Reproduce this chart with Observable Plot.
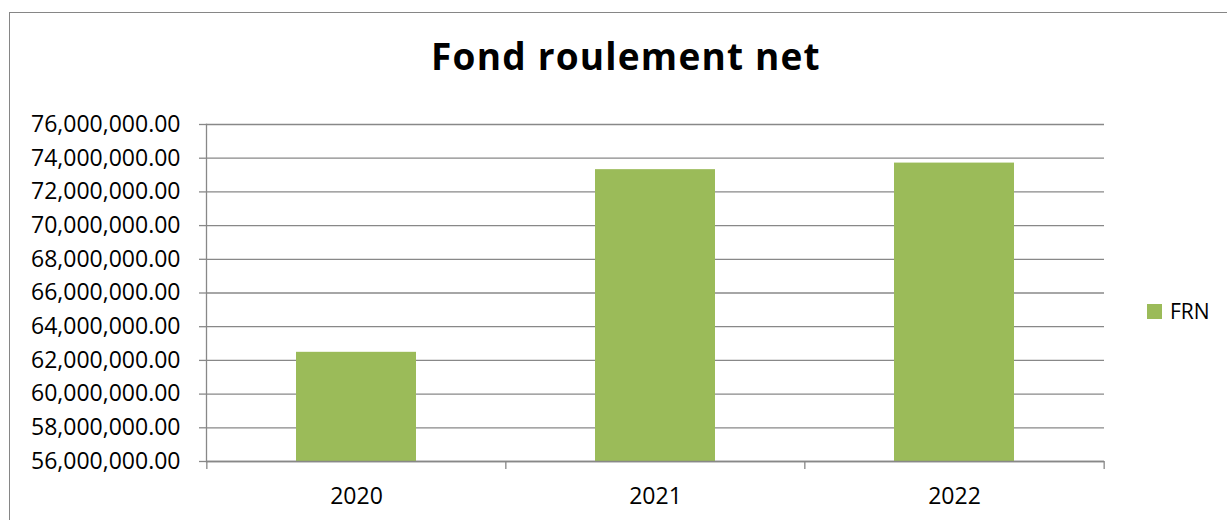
<!DOCTYPE html>
<html>
<head>
<meta charset="utf-8">
<script src="https://cdn.jsdelivr.net/npm/d3@7"></script>
<script src="https://cdn.jsdelivr.net/npm/@observablehq/plot@0.6"></script>
<style>
  html, body { margin: 0; padding: 0; background: #fff; }
  #wrap { position: relative; width: 1227px; height: 520px; overflow: hidden; font-family: "Open Sans", "Noto Sans", sans-serif; }
  #border { position: absolute; left: 9px; top: 12px; right: -5px; bottom: -5px; border-top: 1px solid #868686; border-left: 1px solid #868686; pointer-events: none; }
  #titlebox { position: relative; height: 100px; }
  #title { position: absolute; left: 626px; top: 37px; transform: translateX(-50%); font-size: 37px; font-weight: 700; line-height: 1; letter-spacing: 1.2px; color: #000; white-space: nowrap; }
  #legend { position: absolute; left: 1147px; top: 297px; display: flex; align-items: center; font-size: 21px; color: #000; }
  #legend .sw { width: 15px; height: 15px; margin-right: 8px; }
</style>
</head>
<body>
<div id="wrap">
  <div id="border"></div>
  <div id="titlebox"><div id="title"></div></div>
  <div id="chart"></div>
  <div id="legend"></div>
</div>
<script>
const titleText = "Fond roulement net";
const seriesName = "FRN";
const years = ["2020", "2021", "2022"];
const frnValues = [62480000, 73320000, 73710000];
const yTicks = [56e6, 58e6, 60e6, 62e6, 64e6, 66e6, 68e6, 70e6, 72e6, 74e6, 76e6];
const barColor = "#9BBB59";
const gridColor = "#888888";

document.getElementById("title").textContent = titleText;
const lg = document.getElementById("legend");
lg.innerHTML = `<div class="sw" style="background:${barColor}"></div><span>${seriesName}</span>`;

const data = years.map((y, i) => ({year: y, value: frnValues[i]}));

const W = 1227, H = 420, mL = 206, mR = 123, mT = 24, mB = 59;
const step = (W - mL - mR) / years.length;

const chart = Plot.plot({
  width: W,
  height: H,
  marginLeft: mL,
  marginRight: mR,
  marginTop: mT,
  marginBottom: mB,
  style: {fontFamily: "'Open Sans', 'Noto Sans', sans-serif", fontSize: "23px", color: "#000", background: "transparent"},
  x: {domain: years, paddingInner: 0.6, paddingOuter: 0.3, label: null},
  y: {domain: [56e6, 76e6], label: null},
  marks: [
    Plot.gridY(yTicks, {stroke: gridColor, strokeOpacity: 1, strokeWidth: 1.3}),
    Plot.rectY(data, {x: "year", y1: 56e6, y2: "value", fill: barColor}),
    Plot.gridY([56e6], {stroke: gridColor, strokeOpacity: 1, strokeWidth: 1.3}),
    Plot.frame({anchor: "left", stroke: gridColor, strokeWidth: 1.3}),
    Plot.ruleX(years, {x: d => d, y1: 56e6, y2: 56e6, insetBottom: -8, dx: -step / 2, stroke: gridColor, strokeWidth: 1.3}),
    Plot.ruleX([years[years.length - 1]], {x: d => d, y1: 56e6, y2: 56e6, insetBottom: -8, dx: step / 2, stroke: gridColor, strokeWidth: 1.3}),
    Plot.axisY(yTicks, {tickFormat: d3.format(",.2f"), tickSize: 7, tickPadding: 19, stroke: gridColor, strokeWidth: 1.3, fill: "#000", label: null}),
    Plot.axisX({tickSize: 0, tickPadding: 26, fill: "#000", label: null})
  ]
});
document.getElementById("chart").appendChild(chart);
</script>
</body>
</html>
